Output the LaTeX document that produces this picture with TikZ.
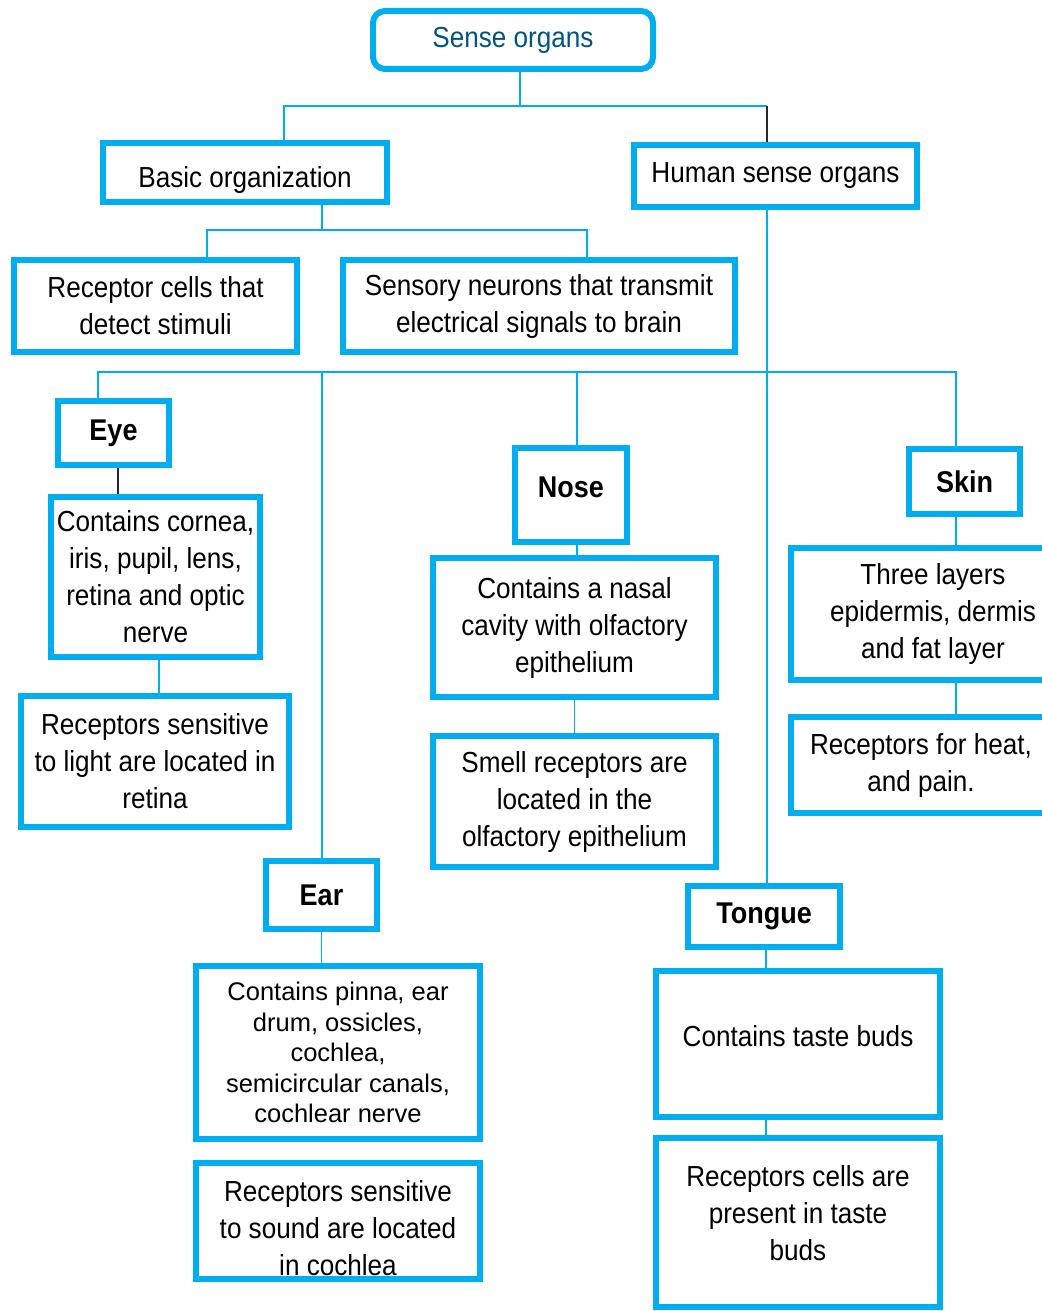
\documentclass[tikz,border=0pt]{standalone}
\usepackage{fontspec}
\setmainfont{Liberation Sans}[FakeStretch=0.9]
\newfontfamily\widefont{Liberation Sans}
\usetikzlibrary{positioning,calc}

\definecolor{boxblue}{RGB}{0,174,239}
\definecolor{titleblue}{RGB}{0,84,130}
\definecolor{darkline}{RGB}{40,40,40}

\begin{document}
\begin{tikzpicture}[x=1pt,y=-1pt]
	\tikzset{
	  basic/.style  = {draw=boxblue, line width=6pt, fill=white, align=center,
	                   inner sep=0pt, outer sep=3pt, font=\fontsize{29}{37}\selectfont},
	  root/.style   = {basic, rounded corners=12pt, text=titleblue},
	  organ/.style  = {basic, font=\fontsize{30}{37}\selectfont\bfseries},
	  fact/.style   = {basic},
	  link/.style   = {draw=boxblue, line width=1.5pt},
	  darklink/.style = {draw=darkline, line width=1.5pt}
	}
	\useasboundingbox (0,0) rectangle (1041,1311);

	% top of the tree
	\node[root, minimum width=280, minimum height=58] (sense) at (513,40) {Sense organs};
	\node[fact, minimum width=284, minimum height=59] (basic) at (245,172.5)
	  {\mbox{}\\Basic organization};
	\node[fact, minimum width=283, minimum height=62] (human) at (775.5,176) {Human sense organs};

	% basic organization
	\node[fact, minimum width=283, minimum height=92] (receptor) at (155.5,306)
	  {Receptor cells that\\detect stimuli};
	\node[fact, minimum width=392, minimum height=92] (sensory) at (539,306)
	  {Sensory neurons that transmit\\electrical signals to brain};

	% eye
	\node[organ, minimum width=111, minimum height=64] (eye) at (113.5,433) {Eye};
	\node[fact, minimum width=209, minimum height=160] (cornea) at (155.5,577)
	  {Contains cornea,\\iris, pupil, lens,\\retina and optic\\nerve};
	\node[fact, minimum width=268, minimum height=131] (light) at (155,761.5)
	  {Receptors sensitive\\to light are located in\\retina};

	% ear
	\node[organ, minimum width=111, minimum height=68] (ear) at (321.5,895) {Ear};
	\node[fact, minimum width=284, minimum height=173, font=\fontsize{25.5}{30.5}\widefont] (pinna) at (338,1052.5)
	  {Contains pinna, ear\\drum, ossicles,\\cochlea,\\semicircular canals,\\cochlear nerve};
	\node[fact, minimum width=284, minimum height=116] (sound) at (338,1221)
	  {\mbox{}\\[-2pt]Receptors sensitive\\to sound are located\\in cochlea};

	% nose
	\node[organ, minimum width=112, minimum height=94] (nose) at (571,495) {Nose\\[-21pt]};
	\node[fact, minimum width=283, minimum height=139] (nasal) at (574.5,627.5)
	  {Contains a nasal\\cavity with olfactory\\epithelium};
	\node[fact, minimum width=283, minimum height=131] (smell) at (574.5,801.5)
	  {Smell receptors are\\located in the\\olfactory epithelium};

	% skin
	\node[organ, minimum width=111, minimum height=65] (skin) at (964.5,481.5) {Skin};
	\node[fact, minimum width=284, minimum height=132] (layers) at (933,614)
	  {Three layers\\epidermis, dermis\\and fat layer};
	\node[fact, minimum width=260, minimum height=96] (heat) at (921,765)
	  {Receptors for heat,\\and pain.};

	% tongue
	\node[organ, minimum width=152, minimum height=61] (tongue) at (764,916.5) {Tongue};
	\node[fact, minimum width=284, minimum height=146] (taste) at (798,1044)
	  {Contains taste buds\\[-21pt]};
	\node[fact, minimum width=284, minimum height=169] (buds) at (798,1222.5)
	  {Receptors cells are\\present in taste\\buds\\[-18pt]};

	% branch points
	\coordinate (top) at (520,106);
	\coordinate (busA) at (284,106);
	\coordinate (busB) at (767,106);
	\coordinate (midB) at (322,230);
	\coordinate (busC) at (207,230);
	\coordinate (busD) at (587,230);
	\coordinate (eyeTop) at (98,372);
	\coordinate (earTop) at (322,372);
	\coordinate (noseTop) at (577,372);
	\coordinate (skinTop) at (956,372);

	\draw[link] (sense.south -| top) -- (top);
	\draw[link] (basic.north -| busA) -- (busA) -- (busB);
	\draw[darklink] (busB) -- (human.north -| busB);

	\draw[link] (basic.south -| midB) -- (midB);
	\draw[link] (receptor.north -| busC) -- (busC) -- (busD) -- (sensory.north -| busD);

	\draw[link] (human.south -| busB) -- (tongue.north -| busB);
	\draw[link] (eye.north -| eyeTop) -- (eyeTop) -- (skinTop) -- (skin.north -| skinTop);
	\draw[link] (earTop) -- (ear.north -| earTop);
	\draw[link] (noseTop) -- (nose.north -| noseTop);

	\draw[darklink] ([xshift=4.5pt]eye.south) -- ([xshift=4.5pt]eye.south |- cornea.north);
	\draw[link] ([xshift=3.5pt]cornea.south) -- ([xshift=3.5pt]cornea.south |- light.north);
	\draw[link] (ear.south) -- (ear.south |- pinna.north);
	\draw[link] (nose.south -| noseTop) -- (nasal.north -| noseTop);
	\draw[link] (nasal.south) -- (smell.north);
	\draw[link] (skin.south -| skinTop) -- (layers.north -| skinTop);
	\draw[link] (layers.south -| skinTop) -- (heat.north -| skinTop);
	\draw[link] ([xshift=2pt]tongue.south) -- ([xshift=2pt]tongue.south |- taste.north);
	\draw[link] ([xshift=2pt]tongue.south |- taste.south) -- ([xshift=2pt]tongue.south |- buds.north);
\end{tikzpicture}
\end{document}
